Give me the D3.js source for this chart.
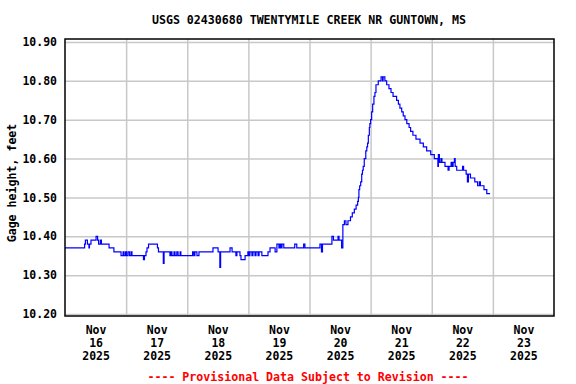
<!DOCTYPE html>
<html>
<head>
<meta charset="utf-8">
<script src="https://cdn.jsdelivr.net/npm/d3@7"></script>
<style>
  html, body { margin: 0; padding: 0; background: #fff; }
  svg { display: block; }
  text { font-family: "DejaVu Sans Mono", monospace; font-weight: bold; }
</style>
</head>
<body>
<svg id="chart" width="576" height="384"></svg>
<script>
const title = "USGS 02430680 TWENTYMILE CREEK NR GUNTOWN, MS";
const yLabel = "Gage height, feet";
const footnote = "---- Provisional Data Subject to Revision ----";

// hours since Nov 16 2025 00:00, and gage height in feet at that moment
const hours = [
  0.0, 7.7, 8.0, 8.8, 9.4, 9.6, 10.2, 12.2, 12.8, 13.2, 13.9, 14.3, 17.3, 19.2,
  22.0, 22.8, 23.2, 23.8, 24.1, 24.7, 25.3, 25.9, 26.3, 30.8, 31.2, 31.8, 32.2,
  32.8, 36.3, 36.7, 37.3, 38.6, 38.9, 41.2, 41.6, 42.0, 42.8, 43.2, 43.9, 44.4,
  45.2, 45.5, 50.1, 50.6, 51.0, 51.8, 52.6, 58.1, 60.1, 60.8, 61.1, 64.8, 65.6,
  67.1, 67.5, 68.7, 69.1, 70.7, 71.8, 72.2, 72.6, 73.4, 73.8, 74.6, 75.0, 75.8,
  76.2, 77.3, 79.7, 80.5, 82.5, 83.2, 84.0, 84.4, 84.8, 85.2, 85.9, 90.2, 91.0,
  93.7, 94.2, 100.1, 100.7, 101.1, 104.8, 105.4, 107.2, 107.6, 108.6, 108.9,
  109.1, 109.7, 110.3, 111.1, 112.1, 112.8, 113.6, 114.3, 114.9, 115.2, 115.4,
  115.7, 116.1, 116.5, 116.8, 117.1, 117.5, 118.1, 118.5, 118.8, 119.1, 119.5,
  119.7, 120.0, 120.4, 120.8, 121.3, 121.7, 122.1, 123.0, 124.1, 124.7, 124.9,
  125.6, 126.3, 127.2, 128.0, 128.8, 130.2, 130.9, 131.5, 132.2, 132.8, 133.5,
  134.2, 135.1, 135.7, 136.6, 137.8, 139.4, 140.7, 142.0, 143.6, 145.0, 146.4,
  146.6, 147.0, 147.6, 148.0, 149.2, 150.4, 150.8, 151.6, 152.0, 152.4, 152.9,
  153.2, 153.8, 156.1, 156.5, 157.5, 158.0, 158.4, 159.2, 160.9, 162.0, 162.7,
  163.1, 164.5, 165.6, 166.9
];
const heights = [
  10.37, 10.38, 10.39, 10.38, 10.37, 10.38, 10.39, 10.40, 10.39, 10.38, 10.39, 10.38, 10.37, 10.36,
  10.35, 10.36, 10.35, 10.36, 10.35, 10.36, 10.35, 10.36, 10.35, 10.34, 10.35, 10.36, 10.37,
  10.38, 10.37, 10.36, 10.36, 10.33, 10.36, 10.35, 10.36, 10.35, 10.36, 10.35, 10.36, 10.35,
  10.36, 10.35, 10.36, 10.35, 10.36, 10.35, 10.36, 10.37, 10.36, 10.32, 10.36, 10.37, 10.36,
  10.35, 10.36, 10.35, 10.34, 10.35, 10.36, 10.35, 10.36, 10.35, 10.36, 10.35, 10.36, 10.35,
  10.36, 10.35, 10.36, 10.37, 10.36, 10.38, 10.37, 10.38, 10.37, 10.38, 10.37, 10.38, 10.37,
  10.38, 10.37, 10.38, 10.36, 10.38, 10.40, 10.39, 10.40, 10.39, 10.37, 10.37,
  10.43, 10.44, 10.43, 10.44, 10.45, 10.46, 10.47, 10.48, 10.49, 10.50, 10.52,
  10.53, 10.54, 10.56, 10.57, 10.58, 10.60, 10.62, 10.63, 10.64, 10.66, 10.68,
  10.69, 10.70, 10.72, 10.74, 10.76, 10.77, 10.79, 10.80, 10.81, 10.80, 10.81,
  10.80, 10.79, 10.78, 10.77, 10.76, 10.75, 10.74, 10.73, 10.72, 10.71, 10.70,
  10.69, 10.68, 10.67, 10.66, 10.65, 10.64, 10.63, 10.62, 10.61, 10.60, 10.58,
  10.61, 10.59, 10.60, 10.59, 10.58, 10.57, 10.58, 10.59, 10.58, 10.59, 10.60,
  10.58, 10.57, 10.58, 10.57, 10.56, 10.54, 10.56, 10.55, 10.54, 10.53, 10.54,
  10.53, 10.52, 10.51, 10.51
];

const yTicks = [10.2, 10.3, 10.4, 10.5, 10.6, 10.7, 10.8, 10.9];
const dayLabels = ["16", "17", "18", "19", "20", "21", "22", "23"];
const monthLabel = "Nov";
const yearLabel = "2025";

const t0 = Date.UTC(2025, 10, 16);
const hour = 3600e3;
const data = hours.map((h, i) => ({ date: new Date(t0 + h * hour), value: heights[i] }));

const svg = d3.select("#chart");
const plotLeft = 65, plotRight = 554, plotTop = 39, plotBottom = 316;

const x = d3.scaleUtc()
  .domain([new Date(t0), new Date(t0 + 8 * 24 * hour)])
  .range([plotLeft, plotRight]);
const y = d3.scaleLinear()
  .domain([10.2, 10.9])
  .range([314, 42]);

const midnights = d3.range(1, 8).map((d) => new Date(t0 + d * 24 * hour));
const noons = dayLabels.map((_, i) => new Date(t0 + (i * 24 + 12) * hour));

// grid
svg.append("g")
  .attr("transform", `translate(${plotLeft},0)`)
  .call(d3.axisLeft(y).tickValues(yTicks).tickSize(-(plotRight - plotLeft)).tickFormat(""))
  .call((g) => {
    g.select(".domain").remove();
    g.selectAll(".tick line").attr("stroke", "#c8c8c8").attr("stroke-width", 1.5);
  });

svg.append("g")
  .attr("transform", `translate(0,${plotBottom})`)
  .call(d3.axisBottom(x).tickValues(midnights).tickSize(-(plotBottom - plotTop)).tickFormat(""))
  .call((g) => {
    g.select(".domain").remove();
    g.selectAll(".tick line").attr("stroke", "#c8c8c8").attr("stroke-width", 1.5);
  });

// data line
const line = d3.line()
  .x((d) => x(d.date))
  .y((d) => y(d.value))
  .curve(d3.curveStepAfter);

svg.append("path")
  .datum(data)
  .attr("fill", "none")
  .attr("stroke", "#0000ff")
  .attr("stroke-width", 1.2)
  .attr("d", line);

// frame
svg.append("rect")
  .attr("x", plotLeft)
  .attr("y", plotTop)
  .attr("width", plotRight - plotLeft)
  .attr("height", plotBottom - plotTop)
  .attr("fill", "none")
  .attr("stroke", "#000")
  .attr("stroke-width", 1.5);

// y axis labels
svg.append("g")
  .attr("transform", `translate(${plotLeft},0)`)
  .call(d3.axisLeft(y).tickValues(yTicks).tickSize(0).tickPadding(8).tickFormat(d3.format(".2f")))
  .call((g) => {
    g.select(".domain").remove();
    g.selectAll(".tick text")
      .attr("font-family", null)
      .attr("font-size", 11.5)
      .attr("fill", "#000");
  });

// x axis labels, three lines each
svg.append("g")
  .attr("transform", `translate(0,${plotBottom})`)
  .call(d3.axisBottom(x).tickValues(noons).tickSize(0).tickFormat(""))
  .call((g) => {
    g.select(".domain").remove();
    g.selectAll(".tick text").remove();
    g.selectAll(".tick").each(function (d, i) {
      const t = d3.select(this).append("text")
        .attr("text-anchor", "middle")
        .attr("font-size", 11.5)
        .attr("fill", "#000");
      [monthLabel, dayLabels[i], yearLabel].forEach((s, k) => {
        t.append("tspan").attr("x", 0).attr("y", 18 + k * 13.2).text(s);
      });
    });
  });

svg.append("text")
  .attr("x", 309)
  .attr("y", 24)
  .attr("text-anchor", "middle")
  .attr("font-size", 11.6)
  .text(title);

svg.append("text")
  .attr("transform", "translate(16,183) rotate(-90)")
  .attr("text-anchor", "middle")
  .attr("font-size", 11.6)
  .text(yLabel);

svg.append("text")
  .attr("x", 308)
  .attr("y", 381)
  .attr("text-anchor", "middle")
  .attr("font-size", 11.6)
  .attr("fill", "#ff0000")
  .text(footnote);
</script>
</body>
</html>
